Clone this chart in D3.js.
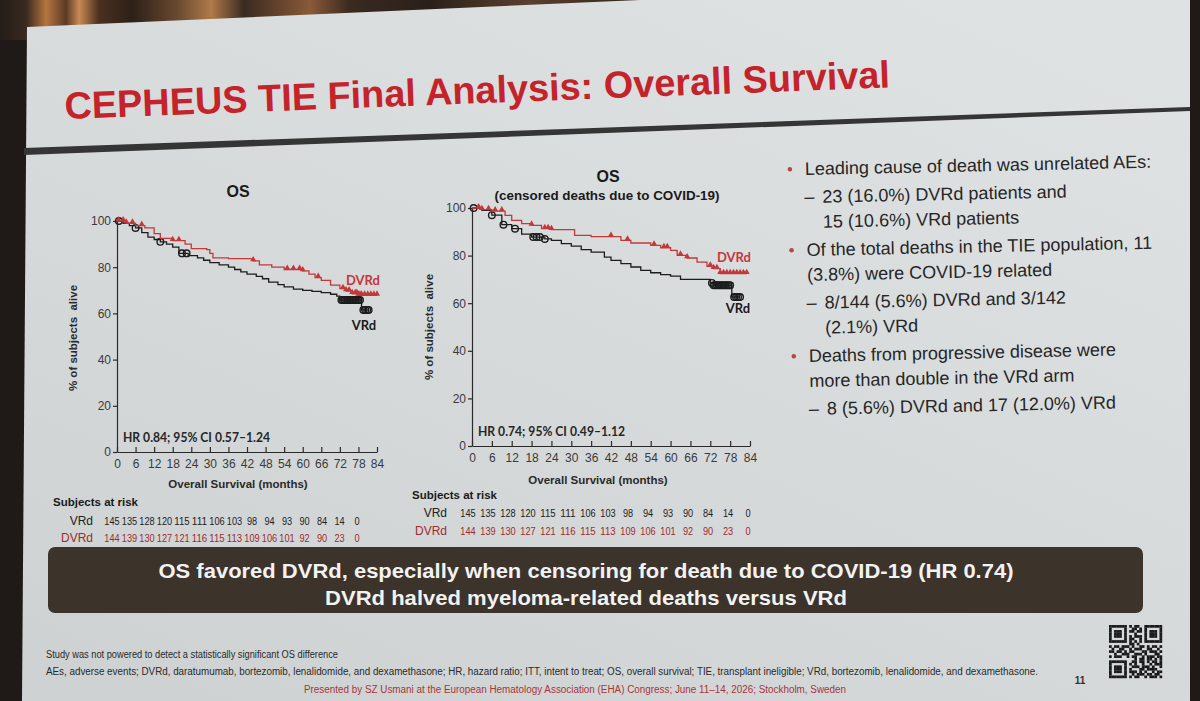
<!DOCTYPE html>
<html>
<head>
<meta charset="utf-8">
<script src="https://cdn.jsdelivr.net/npm/d3@7"></script>
<style>
  body { margin: 0; background: #1f1a17; }
  svg { display: block; }
</style>
</head>
<body>
<div id="slide"></div>
<script>
// ---- values ----
var monthTicks = [0, 6, 12, 18, 24, 30, 36, 42, 48, 54, 60, 66, 72, 78, 84];
var pctTicks = [0, 20, 40, 60, 80, 100];

// left panel: OS
var osVrdTime = [0, 2, 4, 6, 8, 10, 12, 14, 16, 18, 20, 23, 26, 28, 30, 33, 36, 38, 40, 42, 45, 47, 49, 52, 54, 57, 60, 63, 66, 69, 71, 72, 79];
var osVrdSurv = [100, 99, 98, 97, 95, 93, 92, 91, 90, 88.7, 86, 85, 84, 83, 82, 81, 80, 79, 78, 77, 76, 75, 73.5, 72.5, 71.5, 70.5, 70, 69.5, 69, 68.3, 67.5, 65.8, 61.5];
var osVrdCens = [0.6, 6, 14, 21, 22.5, 72.5, 73, 73.5, 74, 74.5, 75, 75.5, 76, 76.5, 77, 77.5, 78, 78.5, 79.6, 80.2, 80.8, 81.3];
var osDvrdTime = [0, 3, 6, 9, 12, 14, 18, 22, 24, 29, 30, 31, 36, 44, 46, 50, 54, 60, 62, 64, 66, 69, 72, 74, 76, 78];
var osDvrdSurv = [100, 99, 98, 97, 94.5, 92.5, 91.5, 90, 88, 87.6, 86, 84, 83.7, 82.7, 81, 80, 79, 78.4, 77, 75.5, 74.3, 72.2, 70.7, 69.7, 68.5, 67.8];
var osDvrdCens = [0.5, 2, 3, 5, 8, 18, 20, 44, 55, 57, 59, 60, 65, 73, 74, 75, 76, 77, 77.5, 78, 78.5, 79, 80, 81, 82, 83, 84];

// right panel: OS with COVID-19 deaths censored
var covVrdTime = [0, 3, 6, 9, 12, 15, 18, 22, 24, 27, 30, 33, 36, 40, 42, 45, 48, 51, 54, 57, 60, 63, 72, 73, 78.5];
var covVrdSurv = [100, 99, 97, 93, 91.3, 89, 87.8, 87, 86.4, 85, 84, 82.5, 81.5, 79.4, 78, 76.6, 75.2, 73.8, 72.8, 72, 71.4, 70, 68.5, 67.5, 62.6];
var covVrdCens = [0.5, 6, 9.5, 13, 18.5, 19.5, 20.5, 22, 72.5, 73, 73.5, 74, 74.5, 75, 75.5, 76, 76.5, 77, 77.5, 78, 79.2, 79.8, 80.4, 81];
var covDvrdTime = [0, 3, 6, 10, 12, 15, 18, 21, 24, 31, 36, 45, 48, 54, 57, 60, 62, 65, 68, 71, 73, 75];
var covDvrdSurv = [100, 99.3, 98.7, 96.9, 94.8, 93.4, 92.7, 91.3, 90.9, 88.5, 88, 86.4, 85.3, 84.3, 83.3, 82.2, 80.1, 79, 77.3, 75.5, 74.5, 72.4];
var covDvrdCens = [2, 3, 5, 7, 9, 18, 22, 23, 24, 42, 47, 55, 58, 59, 63, 65, 72, 73, 74, 75, 76, 77, 78, 79, 80, 81, 82, 83];

// subjects at risk, every 6 months
var vrdAtRisk = [145, 135, 128, 120, 115, 111, 106, 103, 98, 94, 93, 90, 84, 14, 0];
var dvrdAtRisk = [144, 139, 130, 127, 121, 116, 115, 113, 109, 106, 101, 92, 90, 23, 0];

var bulletItems = [
  { level: 1, lines: ["Leading cause of death was unrelated AEs:"] },
  { level: 2, lines: ["23 (16.0%) DVRd patients and", "15 (10.6%) VRd patients"] },
  { level: 1, lines: ["Of the total deaths in the TIE population, 11", "(3.8%) were COVID-19 related"] },
  { level: 2, lines: ["8/144 (5.6%) DVRd and 3/142", "(2.1%) VRd"] },
  { level: 1, lines: ["Deaths from progressive disease were", "more than double in the VRd arm"] },
  { level: 2, lines: ["8 (5.6%) DVRd and 17 (12.0%) VRd"] }
];

var bannerLines = [
  "OS favored DVRd, especially when censoring for death due to COVID-19 (HR 0.74)",
  "DVRd halved myeloma-related deaths versus VRd"
];

var qrRows = [
  "111111101011001111111", "100000100110101000001", "101110101101101011101",
  "101110100010001011101", "101110101011101011101", "100000101100101000001",
  "111111101010101111111", "000000001101000000000", "101101110100110101101",
  "010011001011100110010", "110110101100011011101", "001001110011101000110",
  "101110010110010111011", "000000000010110110101", "111111100110110101101",
  "100000101010010010111", "101110100111011101001", "101110101000110111100",
  "101110101110101001011", "100000100101110110110", "111111101011001011101"
];

var RED = "#c4373a", BLACK = "#1c1c1c";
var SANS = "'Liberation Sans', Arial, sans-serif";
var CALI = "Lato, 'Open Sans', sans-serif";

var W = 1200, H = 701;
var svg = d3.select("#slide").append("svg").attr("width", W).attr("height", H);
var defs = svg.append("defs");

// ---- room around the projected slide ----
var curtain = defs.append("linearGradient").attr("id", "curtain").attr("x1", 0).attr("x2", 1).attr("y1", 0).attr("y2", 0);
[[0, "#231c18"], [0.04, "#3a2a1f"], [0.07, "#b5763f"], [0.1, "#5a3a25"], [0.12, "#c98a52"], [0.15, "#4a3020"],
 [0.2, "#2d2018"], [0.27, "#6a4a30"], [0.32, "#b07a4a"], [0.37, "#3a2a20"], [0.47, "#8a5a38"], [0.53, "#3a2a20"],
 [0.65, "#2a201a"], [0.8, "#5a4030"], [1, "#2a201a"]].forEach(function(s) {
  curtain.append("stop").attr("offset", s[0]).attr("stop-color", s[1]);
});
svg.append("rect").attr("width", W).attr("height", H).attr("fill", "#1f1a17");
svg.append("rect").attr("x", 0).attr("y", 0).attr("width", 660).attr("height", 40).attr("fill", "url(#curtain)");

var screenGrad = defs.append("linearGradient").attr("id", "screen").attr("x1", 0.8).attr("x2", 0.1).attr("y1", 0).attr("y2", 1);
screenGrad.append("stop").attr("offset", 0).attr("stop-color", "#dfe2e3");
screenGrad.append("stop").attr("offset", 1).attr("stop-color", "#ced2d3");
svg.append("polygon")
  .attr("points", "27,27 640,0 1190,0 1190,701 22,701")
  .attr("fill", "url(#screen)");

// ---- title and divider ----
svg.append("text")
  .attr("x", 65).attr("y", 119)
  .attr("transform", "rotate(-2.2,65,119)")
  .attr("textLength", 826).attr("lengthAdjust", "spacingAndGlyphs")
  .style("font-family", SANS).style("font-weight", "bold").style("font-size", "38px")
  .attr("fill", "#c4232c")
  .text("CEPHEUS TIE Final Analysis: Overall Survival");

svg.append("polygon")
  .attr("points", "24,148 1190,107 1190,111 24,155")
  .attr("fill", "#363535");

// ---- Kaplan-Meier panels ----
function survAt(times, surv, t) {
  var s = surv[0];
  for (var i = 0; i < times.length; i++) { if (times[i] <= t) s = surv[i]; }
  return s;
}

function drawKM(cfg) {
  var g = svg.append("g").attr("class", "km");
  var x = d3.scaleLinear().domain([0, 84]).range(cfg.xRange);
  var y = d3.scaleLinear().domain([0, 100]).range(cfg.yRange);

  var yAxis = g.append("g").attr("transform", "translate(" + cfg.xRange[0] + ",0)")
    .call(d3.axisLeft(y).tickValues(pctTicks).tickSize(4).tickPadding(2).tickSizeOuter(0));
  var xAxis = g.append("g").attr("transform", "translate(0," + cfg.yRange[0] + ")")
    .call(d3.axisBottom(x).tickValues(monthTicks).tickSizeInner(-5).tickSizeOuter(0).tickPadding(7));
  [xAxis, yAxis].forEach(function(a) {
    a.selectAll("path, line").attr("stroke", "#2a2a2a").attr("stroke-width", 1.2);
    a.selectAll("text").attr("fill", "#3a3a3a").style("font-family", SANS).style("font-size", "12px");
  });

  var line = d3.line().x(function(d) { return x(d[0]); }).y(function(d) { return y(d[1]); }).curve(d3.curveStepAfter);

  cfg.arms.forEach(function(arm) {
    var pts = arm.time.map(function(t, i) { return [t, arm.surv[i]]; });
    pts.push([d3.max(arm.cens), arm.surv[arm.surv.length - 1]]);
    g.append("path").datum(pts).attr("d", line)
      .attr("fill", "none").attr("stroke", arm.color).attr("stroke-width", 1.3);

    var marks = arm.cens.map(function(t) { return [t, survAt(arm.time, arm.surv, t)]; });
    if (arm.mark === "circle") {
      g.selectAll(null).data(marks).enter().append("circle")
        .attr("cx", function(d) { return x(d[0]); }).attr("cy", function(d) { return y(d[1]); })
        .attr("r", 3.3).attr("fill", "none").attr("stroke", arm.color).attr("stroke-width", 1.4);
    } else {
      g.selectAll(null).data(marks).enter().append("path")
        .attr("d", d3.symbol().type(d3.symbolTriangle).size(16))
        .attr("transform", function(d) { return "translate(" + x(d[0]) + "," + (y(d[1]) - 1.5) + ")"; })
        .attr("fill", arm.color);
    }
  });

  g.append("text").attr("x", cfg.title[0]).attr("y", cfg.title[1]).attr("text-anchor", "middle")
    .style("font-family", SANS).style("font-weight", "bold").style("font-size", "16px").attr("fill", "#1a1a1a")
    .text("OS");
  if (cfg.subtitle) {
    g.append("text").attr("x", cfg.subtitle[0]).attr("y", cfg.subtitle[1]).attr("text-anchor", "middle")
      .style("font-family", SANS).style("font-weight", "bold").style("font-size", "13px").attr("fill", "#1a1a1a")
      .attr("textLength", 225).attr("lengthAdjust", "spacingAndGlyphs")
      .text("(censored deaths due to COVID-19)");
  }

  g.append("text")
    .attr("transform", "translate(" + cfg.yLabel[0] + "," + cfg.yLabel[1] + ") rotate(-90)")
    .attr("text-anchor", "middle").style("white-space", "pre")
    .style("font-family", SANS).style("font-weight", "bold").style("font-size", "11.5px").attr("fill", "#2a2a2a")
    .text("% of subjects  alive");

  g.append("text").attr("x", cfg.xLabel[0]).attr("y", cfg.xLabel[1]).attr("text-anchor", "middle")
    .style("font-family", SANS).style("font-weight", "bold").style("font-size", "11.5px").attr("fill", "#2a2a2a")
    .text("Overall Survival (months)");

  g.append("text").attr("x", cfg.hr[0]).attr("y", cfg.hr[1])
    .style("font-family", CALI).style("font-weight", "bold").style("font-size", "13px").attr("fill", "#262626")
    .attr("textLength", 147).attr("lengthAdjust", "spacingAndGlyphs")
    .text(cfg.hrText);

  g.append("text").attr("x", cfg.dvrdLabel[0]).attr("y", cfg.dvrdLabel[1]).attr("text-anchor", "middle")
    .style("font-family", CALI).style("font-weight", "bold").style("font-size", "13px").attr("fill", RED)
    .text("DVRd");
  g.append("text").attr("x", cfg.vrdLabel[0]).attr("y", cfg.vrdLabel[1]).attr("text-anchor", "middle")
    .style("font-family", CALI).style("font-weight", "bold").style("font-size", "13px").attr("fill", "#1a1a1a")
    .text("VRd");

  // subjects at risk table
  var col = d3.scalePoint().domain(monthTicks).range(cfg.riskRange);
  g.append("text").attr("x", cfg.riskTitle[0]).attr("y", cfg.riskTitle[1])
    .style("font-family", SANS).style("font-weight", "bold").style("font-size", "11.5px").attr("fill", "#1a1a1a")
    .text("Subjects at risk");
  var rows = [
    { name: "VRd", vals: vrdAtRisk, color: "#222222", y: cfg.riskRows[0] },
    { name: "DVRd", vals: dvrdAtRisk, color: "#9e2b2e", y: cfg.riskRows[1] }
  ];
  rows.forEach(function(r) {
    g.append("text").attr("x", cfg.riskLabelX).attr("y", r.y).attr("text-anchor", "end")
      .style("font-family", SANS).style("font-size", "12px").attr("fill", r.color).text(r.name);
    g.selectAll(null).data(r.vals).enter().append("text")
      .attr("x", function(d, i) { return col(monthTicks[i]); }).attr("y", r.y).attr("text-anchor", "middle")
      .attr("textLength", function(d) { return String(d).length * 5.1; })
      .attr("lengthAdjust", "spacingAndGlyphs")
      .style("font-family", SANS).style("font-size", "11.5px").attr("fill", r.color)
      .text(function(d) { return d; });
  });
}

drawKM({
  xRange: [117, 377], yRange: [452, 221],
  title: [238, 197], yLabel: [77, 338], xLabel: [238, 488],
  hr: [123, 442], hrText: "HR 0.84; 95% CI 0.57\u20131.24",
  dvrdLabel: [363, 285], vrdLabel: [364, 330],
  riskTitle: [53, 506], riskRows: [525, 542], riskLabelX: 93, riskRange: [112, 357],
  arms: [
    { time: osVrdTime, surv: osVrdSurv, cens: osVrdCens, color: BLACK, mark: "circle" },
    { time: osDvrdTime, surv: osDvrdSurv, cens: osDvrdCens, color: RED, mark: "triangle" }
  ]
});

drawKM({
  xRange: [472, 750], yRange: [446, 208],
  title: [608, 182], subtitle: [607, 200], yLabel: [433, 327], xLabel: [598, 484],
  hr: [478, 436], hrText: "HR 0.74; 95% CI 0.49\u20131.12",
  dvrdLabel: [734, 262], vrdLabel: [738, 313],
  riskTitle: [412, 499], riskRows: [517, 535], riskLabelX: 447, riskRange: [468, 748],
  arms: [
    { time: covVrdTime, surv: covVrdSurv, cens: covVrdCens, color: BLACK, mark: "circle" },
    { time: covDvrdTime, surv: covDvrdSurv, cens: covDvrdCens, color: RED, mark: "triangle" }
  ]
});

// ---- bullet text on the right ----
var bg = svg.append("g").attr("transform", "rotate(-1.2,805,175)");
var by = 175;
bulletItems.forEach(function(item) {
  var tx = item.level === 1 ? 805 : 822;
  if (item.level === 1) {
    bg.append("circle").attr("cx", 790).attr("cy", by - 6).attr("r", 2.3).attr("fill", "#b5474a");
  } else {
    bg.append("text").attr("x", 804).attr("y", by)
      .style("font-family", SANS).style("font-size", "18px").attr("fill", "#262626").text("\u2013");
  }
  item.lines.forEach(function(l, j) {
    bg.append("text").attr("x", tx).attr("y", by + j * 25)
      .style("font-family", SANS).style("font-size", "18px").attr("fill", "#262626").text(l);
  });
  by += (item.lines.length - 1) * 25 + 28;
});

// ---- take-home banner ----
svg.append("rect").attr("x", 48).attr("y", 547).attr("width", 1095).attr("height", 66).attr("rx", 7)
  .attr("fill", "#3c332b");
var bannerW = [855, 522];
bannerLines.forEach(function(l, i) {
  svg.append("text").attr("x", 586).attr("y", 578 + i * 27).attr("text-anchor", "middle")
    .attr("textLength", bannerW[i]).attr("lengthAdjust", "spacingAndGlyphs")
    .style("font-family", SANS).style("font-weight", "bold").style("font-size", "21px").attr("fill", "#f2f2f2")
    .text(l);
});

// ---- footnotes ----
var foot = [
  { t: "Study was not powered to detect a statistically significant OS difference", x: 46, y: 658, w: 292, c: "#2a2a2a" },
  { t: "AEs, adverse events; DVRd, daratumumab, bortezomib, lenalidomide, and dexamethasone; HR, hazard ratio; ITT, intent to treat; OS, overall survival; TIE, transplant ineligible; VRd, bortezomib, lenalidomide, and dexamethasone.", x: 46, y: 675, w: 992, c: "#2a2a2a" },
  { t: "Presented by SZ Usmani at the European Hematology Association (EHA) Congress; June 11\u201314, 2026; Stockholm, Sweden", x: 304, y: 693, w: 542, c: "#a8353a" }
];
foot.forEach(function(f) {
  svg.append("text").attr("x", f.x).attr("y", f.y)
    .attr("textLength", f.w).attr("lengthAdjust", "spacingAndGlyphs")
    .style("font-family", SANS).style("font-size", "10px").attr("fill", f.c).text(f.t);
});
svg.append("text").attr("x", 1080).attr("y", 684).attr("text-anchor", "middle")
  .style("font-family", SANS).style("font-weight", "bold").style("font-size", "10px").attr("fill", "#333")
  .text("11");

// ---- QR code ----
var qr = svg.append("g").attr("transform", "translate(1109,625)");
var cell = 53 / qrRows.length;
qrRows.forEach(function(row, r) {
  row.split("").forEach(function(b, c) {
    if (b === "1") {
      qr.append("rect").attr("x", c * cell).attr("y", r * cell)
        .attr("width", cell + 0.2).attr("height", cell + 0.2).attr("fill", "#1a1a1a");
    }
  });
});
</script>
</body>
</html>
